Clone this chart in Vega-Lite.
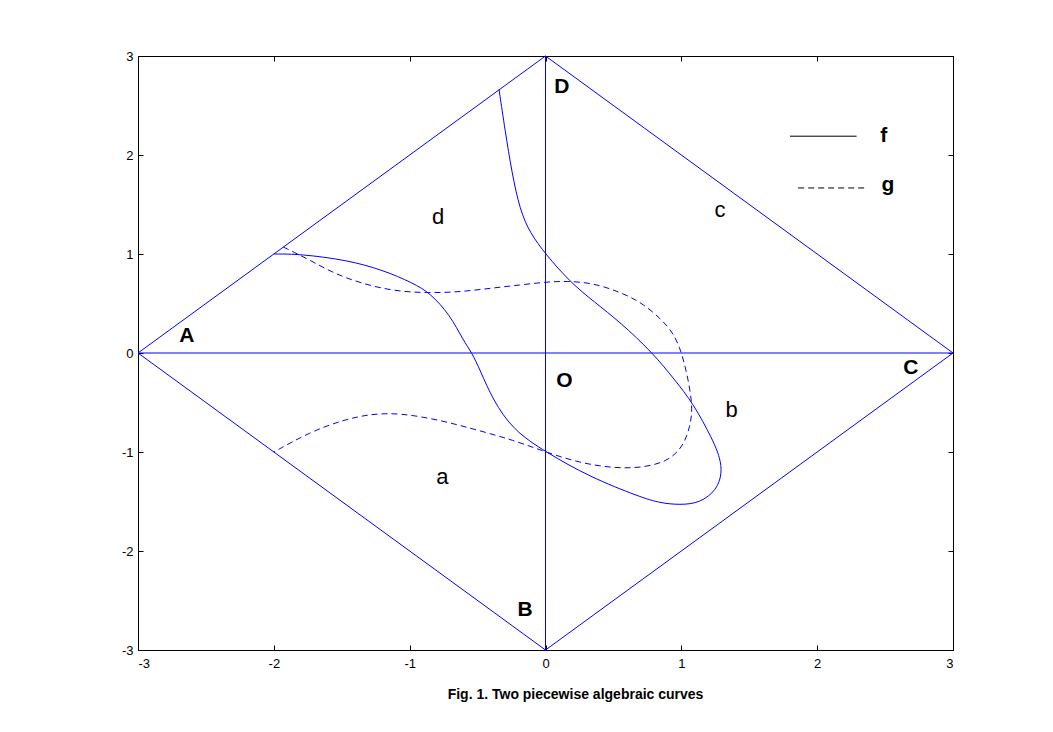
{
  "$schema": "https://vega.github.io/schema/vega-lite/v6.json",
  "width": 815,
  "height": 594,
  "autosize": {"type": "none"},
  "padding": {"left": 138, "top": 56, "right": 100, "bottom": 82},
  "background": "white",
  "config": {
    "view": {"stroke": "black", "strokeWidth": 1},
    "axis": {
      "grid": false,
      "domainColor": "black",
      "tickColor": "black",
      "tickSize": -5,
      "labelFont": "Liberation Sans",
      "labelFontSize": 13,
      "labelColor": "black"
    }
  },
  "datasets": {
    "frame": [
      {"seg": "diamond", "i": 1, "x": -3, "y": 0},
      {"seg": "diamond", "i": 2, "x": 0, "y": 3},
      {"seg": "diamond", "i": 3, "x": 3, "y": 0},
      {"seg": "diamond", "i": 4, "x": 0, "y": -3},
      {"seg": "diamond", "i": 5, "x": -3, "y": 0},
      {"seg": "h", "i": 1, "x": -3, "y": 0},
      {"seg": "h", "i": 2, "x": 3, "y": 0},
      {"seg": "v", "i": 1, "x": 0, "y": -3},
      {"seg": "v", "i": 2, "x": 0, "y": 3}
    ],
    "f": [
      {"i": 1, "x": -0.342, "y": 2.66},
      {"i": 2, "x": -0.298, "y": 2.253},
      {"i": 3, "x": -0.247, "y": 1.818},
      {"i": 4, "x": -0.188, "y": 1.444},
      {"i": 5, "x": -0.114, "y": 1.212},
      {"i": 6, "x": 0, "y": 1.0},
      {"i": 7, "x": 0.18, "y": 0.717},
      {"i": 8, "x": 0.36, "y": 0.515},
      {"i": 9, "x": 0.548, "y": 0.313},
      {"i": 10, "x": 0.791, "y": 0},
      {"i": 11, "x": 0.95, "y": -0.27},
      {"i": 12, "x": 1.086, "y": -0.505},
      {"i": 13, "x": 1.233, "y": -0.879},
      {"i": 14, "x": 1.285, "y": -1.061},
      {"i": 15, "x": 1.30, "y": -1.21},
      {"i": 16, "x": 1.262, "y": -1.384},
      {"i": 17, "x": 1.137, "y": -1.515},
      {"i": 18, "x": 0.99, "y": -1.535},
      {"i": 19, "x": 0.843, "y": -1.515},
      {"i": 20, "x": 0.696, "y": -1.455},
      {"i": 21, "x": 0.327, "y": -1.253},
      {"i": 22, "x": 0, "y": -1},
      {"i": 23, "x": -0.239, "y": -0.778},
      {"i": 24, "x": -0.387, "y": -0.475},
      {"i": 25, "x": -0.482, "y": -0.172},
      {"i": 26, "x": -0.541, "y": 0},
      {"i": 27, "x": -0.607, "y": 0.131},
      {"i": 28, "x": -0.703, "y": 0.384},
      {"i": 29, "x": -0.85, "y": 0.606},
      {"i": 30, "x": -0.976, "y": 0.707},
      {"i": 31, "x": -1.196, "y": 0.838},
      {"i": 32, "x": -1.461, "y": 0.939},
      {"i": 33, "x": -1.807, "y": 1.0},
      {"i": 34, "x": -2.0, "y": 1.0}
    ],
    "g": [
      {"i": 1, "x": -1.93, "y": 1.07},
      {"i": 2, "x": -1.734, "y": 0.939},
      {"i": 3, "x": -1.564, "y": 0.808},
      {"i": 4, "x": -1.366, "y": 0.707},
      {"i": 5, "x": -1.123, "y": 0.626},
      {"i": 6, "x": -0.872, "y": 0.606},
      {"i": 7, "x": -0.629, "y": 0.616},
      {"i": 8, "x": -0.387, "y": 0.657},
      {"i": 9, "x": -0.188, "y": 0.687},
      {"i": 10, "x": 0, "y": 0.717},
      {"i": 11, "x": 0.158, "y": 0.727},
      {"i": 12, "x": 0.35, "y": 0.707},
      {"i": 13, "x": 0.548, "y": 0.616},
      {"i": 14, "x": 0.718, "y": 0.505},
      {"i": 15, "x": 0.917, "y": 0.263},
      {"i": 16, "x": 0.99, "y": 0.061},
      {"i": 17, "x": 1.042, "y": -0.202},
      {"i": 18, "x": 1.086, "y": -0.545},
      {"i": 19, "x": 1.064, "y": -0.747},
      {"i": 20, "x": 1.012, "y": -0.949},
      {"i": 21, "x": 0.895, "y": -1.101},
      {"i": 22, "x": 0.696, "y": -1.162},
      {"i": 23, "x": 0.497, "y": -1.162},
      {"i": 24, "x": 0.254, "y": -1.111},
      {"i": 25, "x": 0, "y": -1.0},
      {"i": 26, "x": -0.239, "y": -0.879},
      {"i": 27, "x": -0.504, "y": -0.778},
      {"i": 28, "x": -0.777, "y": -0.677},
      {"i": 29, "x": -1.071, "y": -0.606},
      {"i": 30, "x": -1.292, "y": -0.616},
      {"i": 31, "x": -1.491, "y": -0.677},
      {"i": 32, "x": -1.734, "y": -0.798},
      {"i": 33, "x": -2.0, "y": -1.0}
    ],
    "legend": [
      {"name": "f", "i": 1, "x": 1.80, "y": 2.19},
      {"name": "f", "i": 2, "x": 2.29, "y": 2.19},
      {"name": "g", "i": 1, "x": 1.86, "y": 1.667},
      {"name": "g", "i": 2, "x": 2.35, "y": 1.667}
    ],
    "boldLabels": [
      {"t": "A", "x": -2.64, "y": 0.17},
      {"t": "D", "x": 0.12, "y": 2.69},
      {"t": "C", "x": 2.69, "y": -0.15},
      {"t": "B", "x": -0.15, "y": -2.6},
      {"t": "O", "x": 0.14, "y": -0.28},
      {"t": "f", "x": 2.49, "y": 2.19},
      {"t": "g", "x": 2.52, "y": 1.70}
    ],
    "plainLabels": [
      {"t": "a", "x": -0.76, "y": -1.25},
      {"t": "b", "x": 1.37, "y": -0.58},
      {"t": "c", "x": 1.285, "y": 1.44},
      {"t": "d", "x": -0.79, "y": 1.37}
    ]
  },
  "layer": [
    {
      "data": {"name": "frame"},
      "mark": {"type": "line", "color": "#0000ff", "strokeWidth": 1},
      "encoding": {
        "x": {"field": "x", "type": "quantitative", "scale": {"domain": [-3, 3], "nice": false, "zero": false},
              "axis": {"orient": "bottom", "values": [-3, -2, -1, 0, 1, 2, 3], "labelExpr": "'' + datum.value", "labelPadding": 12, "title": "Fig. 1. Two piecewise algebraic curves",
                       "titleFont": "Liberation Sans", "titleFontSize": 14, "titleFontWeight": "bold", "titleColor": "black",
                       "titleX": 437, "titleY": 37, "titleBaseline": "top", "titleAlign": "center"}},
        "y": {"field": "y", "type": "quantitative", "scale": {"domain": [-3, 3], "nice": false, "zero": false},
              "axis": {"orient": "left", "values": [-3, -2, -1, 0, 1, 2, 3], "labelExpr": "'' + datum.value", "labelPadding": 10, "title": null}},
        "detail": {"field": "seg"},
        "order": {"field": "i"}
      }
    },
    {
      "data": {"name": "legend"},
      "mark": {"type": "line", "color": "black", "strokeWidth": 1},
      "encoding": {
        "x": {"field": "x", "type": "quantitative", "scale": {"domain": [-3, 3], "nice": false, "zero": false},
              "axis": {"orient": "top", "values": [-3, -2, -1, 0, 1, 2, 3], "labels": false, "title": null}},
        "y": {"field": "y", "type": "quantitative", "scale": {"domain": [-3, 3], "nice": false, "zero": false},
              "axis": {"orient": "right", "values": [-3, -2, -1, 0, 1, 2, 3], "labels": false, "title": null}},
        "detail": {"field": "name"},
        "strokeDash": {"field": "name", "type": "nominal", "scale": {"domain": ["f", "g"], "range": [[1, 0], [6, 4]]}, "legend": null},
        "order": {"field": "i"}
      }
    },
    {
      "data": {"name": "f"},
      "mark": {"type": "line", "color": "#0000ff", "strokeWidth": 1, "interpolate": "basis"},
      "encoding": {
        "x": {"field": "x", "type": "quantitative", "axis": null},
        "y": {"field": "y", "type": "quantitative", "axis": null},
        "order": {"field": "i"}
      }
    },
    {
      "data": {"name": "g"},
      "mark": {"type": "line", "color": "#0000ff", "strokeWidth": 1, "strokeDash": [6, 4], "interpolate": "basis"},
      "encoding": {
        "x": {"field": "x", "type": "quantitative", "axis": null},
        "y": {"field": "y", "type": "quantitative", "axis": null},
        "order": {"field": "i"}
      }
    },
    {
      "data": {"name": "boldLabels"},
      "mark": {"type": "text", "font": "Liberation Sans", "fontSize": 21, "fontWeight": "bold", "color": "black", "align": "center", "baseline": "middle"},
      "encoding": {
        "x": {"field": "x", "type": "quantitative", "axis": null},
        "y": {"field": "y", "type": "quantitative", "axis": null},
        "text": {"field": "t"}
      }
    },
    {
      "data": {"name": "plainLabels"},
      "mark": {"type": "text", "font": "Liberation Sans", "fontSize": 22, "color": "black", "align": "center", "baseline": "middle"},
      "encoding": {
        "x": {"field": "x", "type": "quantitative", "axis": null},
        "y": {"field": "y", "type": "quantitative", "axis": null},
        "text": {"field": "t"}
      }
    }
  ],
  "resolve": {"axis": {"x": "independent", "y": "independent"}}
}
